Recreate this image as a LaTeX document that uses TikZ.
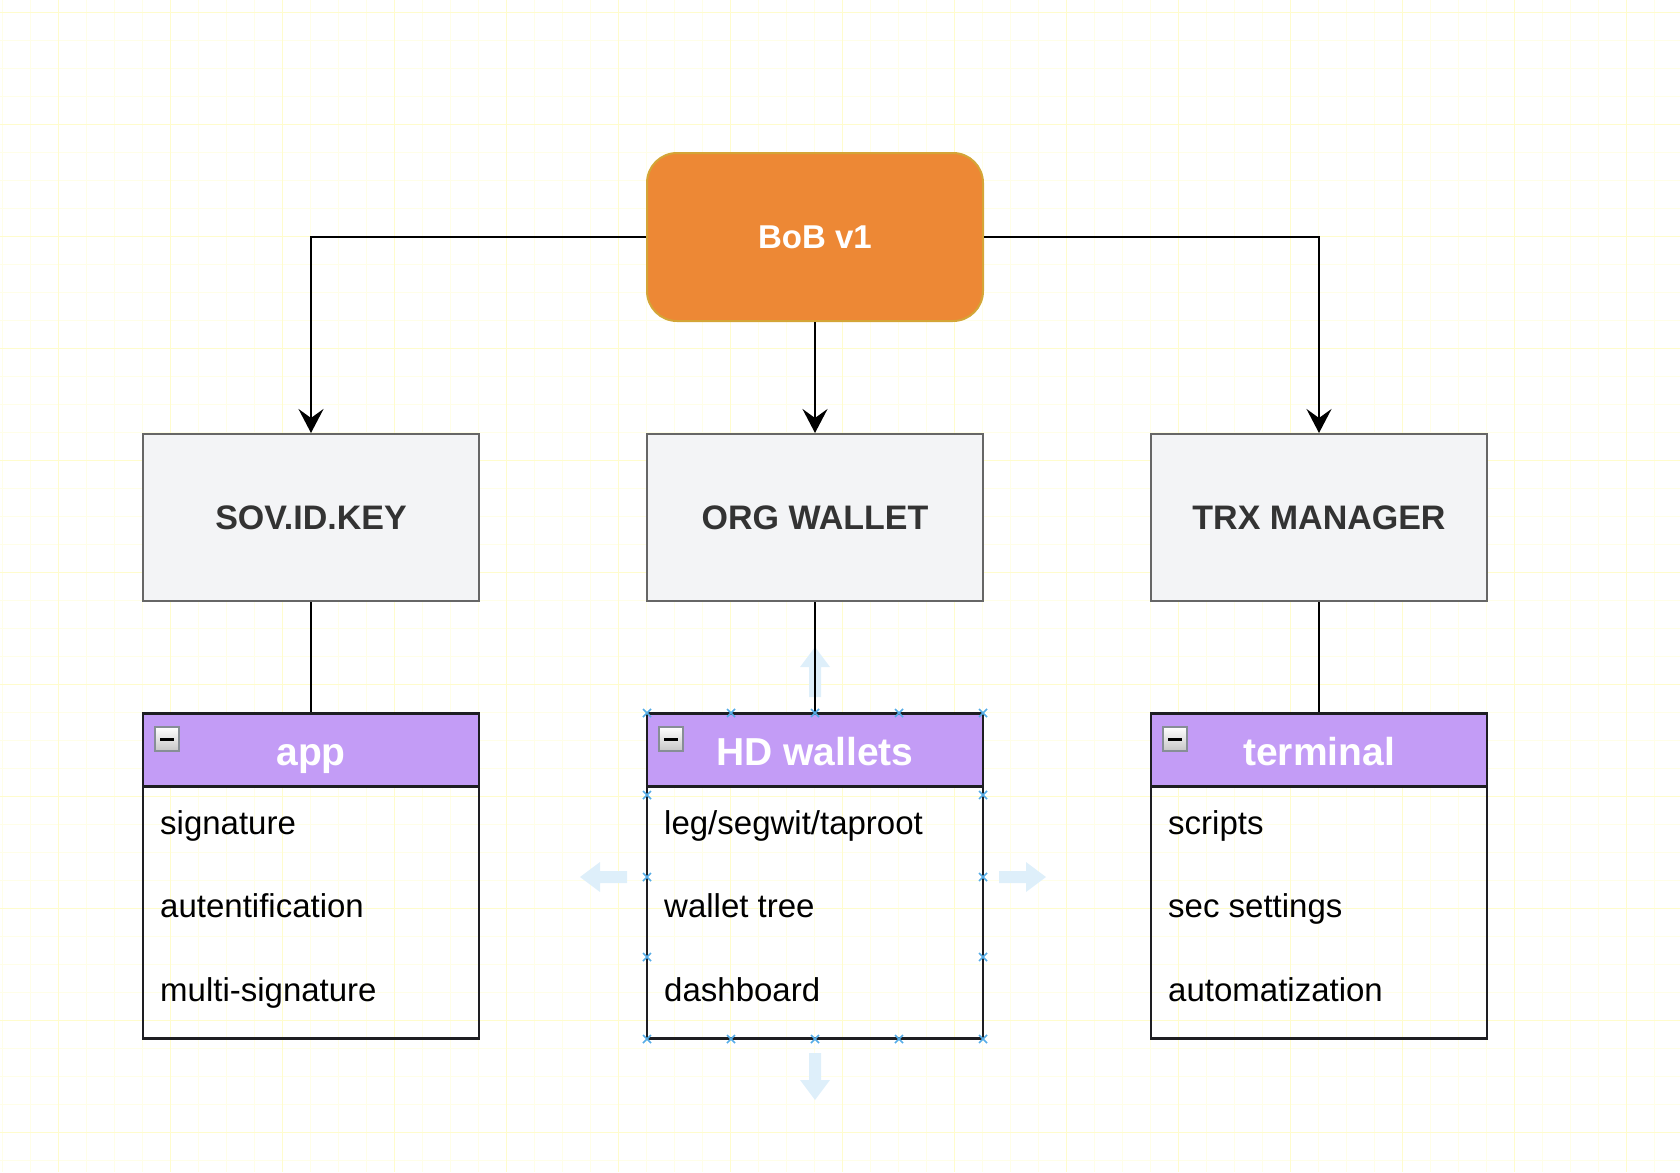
\documentclass[tikz,border=0pt]{standalone}
\usepackage{fontspec}
\setmainfont{Liberation Sans}
\usetikzlibrary{arrows.meta}

\definecolor{boborange}{RGB}{237,136,53}
\definecolor{bobborder}{RGB}{212,165,55}
\definecolor{boxgray}{RGB}{243,244,246}
\definecolor{boxline}{RGB}{102,102,102}
\definecolor{boxtext}{RGB}{51,51,51}
\definecolor{hdpurple}{RGB}{195,156,246}
\definecolor{listline}{RGB}{30,30,34}
\definecolor{gridmajor}{RGB}{255,252,205}
\definecolor{gridminor}{RGB}{255,254,232}
\definecolor{handleblue}{RGB}{86,172,230}
\definecolor{hintblue}{RGB}{222,239,250}
\definecolor{iconline}{RGB}{135,142,150}

\tikzset{
    rootbox/.style={draw=bobborder, fill=boborange, line width=2pt, rounded corners=30pt,
        minimum width=336pt, minimum height=168pt, text=white,
        font=\bfseries\fontsize{33}{40}\selectfont},
    partbox/.style={draw=boxline, fill=boxgray, line width=2pt,
        minimum width=336pt, minimum height=167pt, text=boxtext,
        font=\bfseries\fontsize{34}{40}\selectfont},
    listbox/.style={draw=listline, line width=2.5pt, minimum width=336pt, minimum height=325pt},
    listhead/.style={draw=listline, fill=hdpurple, line width=2.5pt, minimum width=336pt,
        minimum height=73pt, text=white, text height=30pt, text depth=0pt,
        font=\bfseries\fontsize{39}{46}\selectfont},
    itemtext/.style={anchor=base west, inner sep=0pt, font=\fontsize{33}{40}\selectfont},
    minusicon/.style={draw=iconline, line width=2pt, top color=white, bottom color=gray!45,
        minimum size=24pt, inner sep=0pt},
    arrowline/.style={line width=2.4pt, -{Stealth[length=24pt,width=25pt,inset=9pt]}},
    plainline/.style={line width=2.4pt},
    handle/.style={handleblue, line width=1.5pt},
    hint/.style={fill=hintblue, draw=none}
}

\begin{document}
\begin{tikzpicture}[x=1pt, y=-1pt]
    \useasboundingbox (0,0) rectangle (1680,1172);
    % grid
    \foreach \gx in {2.7,30.7,...,1680} \draw[gridminor, line width=1pt] (\gx,0) -- (\gx,1172);
    \foreach \gy in {12.7,40.7,...,1172} \draw[gridminor, line width=1pt] (0,\gy) -- (1680,\gy);
    \foreach \gx in {58.7,170.7,...,1680} \draw[gridmajor, line width=1.2pt] (\gx,0) -- (\gx,1172);
    \foreach \gy in {12.7,124.7,...,1172} \draw[gridmajor, line width=1.2pt] (0,\gy) -- (1680,\gy);

    % selection hints round HD wallets
    \fill[hint] (809,697) -- (809,667) -- (800,667) -- (815,647) -- (830,667) -- (821,667) -- (821,697) -- cycle;
    \fill[hint] (809,1053) -- (809,1080) -- (800,1080) -- (815,1100) -- (830,1080) -- (821,1080) -- (821,1053) -- cycle;
    \fill[hint] (627,871) -- (600,871) -- (600,862) -- (580,877) -- (600,892) -- (600,883) -- (627,883) -- cycle;
    \fill[hint] (999,871) -- (1026,871) -- (1026,862) -- (1046,877) -- (1026,892) -- (1026,883) -- (999,883) -- cycle;

    \node[rootbox] (bob) at (815,237) {BoB v1};

    \node[partbox] (sov) at (311,517.5) {SOV.ID.KEY};
    \node[partbox] (org) at (815,517.5) {ORG WALLET};
    \node[partbox] (trx) at (1319,517.5) {TRX MANAGER};

    \draw[arrowline] (bob.west) -| (sov.north);
    \draw[arrowline] (bob.south) -- (org.north);
    \draw[arrowline] (bob.east) -| (trx.north);

    % app
    \node[listbox] (app) at (311,876) {};
    \node[listhead] (apphead) at (311,750) {app};
    \node[minusicon] (appmin) at (167,739) {};
    \draw[line width=3pt] ([xshift=-7pt]appmin.center) -- ([xshift=7pt]appmin.center);
    \node[itemtext] (app1) at (160,834) {signature};
    \node[itemtext] (app2) at (160,917.5) {autentification};
    \node[itemtext] (app3) at (160,1001) {multi-signature};

    % HD wallets
    \node[listbox] (hd) at (815,876) {};
    \node[listhead] (hdhead) at (815,750) {HD wallets};
    \node[minusicon] (hdmin) at (671,739) {};
    \draw[line width=3pt] ([xshift=-7pt]hdmin.center) -- ([xshift=7pt]hdmin.center);
    \node[itemtext] (hd1) at (664,834) {leg/segwit/taproot};
    \node[itemtext] (hd2) at (664,917.5) {wallet tree};
    \node[itemtext] (hd3) at (664,1001) {dashboard};

    % terminal
    \node[listbox] (term) at (1319,876) {};
    \node[listhead] (termhead) at (1319,750) {terminal};
    \node[minusicon] (termmin) at (1175,739) {};
    \draw[line width=3pt] ([xshift=-7pt]termmin.center) -- ([xshift=7pt]termmin.center);
    \node[itemtext] (term1) at (1168,834) {scripts};
    \node[itemtext] (term2) at (1168,917.5) {sec settings};
    \node[itemtext] (term3) at (1168,1001) {automatization};

    \draw[plainline] (sov.south) -- (apphead.north);
    \draw[plainline] (org.south) -- (hdhead.north);
    \draw[plainline] (trx.south) -- (termhead.north);

    % handles
    \foreach \hx in {647,731,815,899,983} {
        \draw[handle] (\hx-4,709) -- (\hx+4,717) (\hx-4,717) -- (\hx+4,709);
        \draw[handle] (\hx-4,1035) -- (\hx+4,1043) (\hx-4,1043) -- (\hx+4,1035);
    }
    \foreach \hy in {795,877,957} {
        \draw[handle] (643,\hy-4) -- (651,\hy+4) (643,\hy+4) -- (651,\hy-4);
        \draw[handle] (979,\hy-4) -- (987,\hy+4) (979,\hy+4) -- (987,\hy-4);
    }
\end{tikzpicture}
\end{document}
